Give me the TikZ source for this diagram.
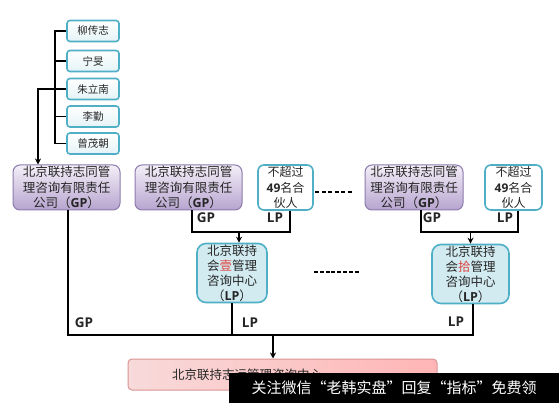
\documentclass[tikz,border=0pt]{standalone}
\usepackage{fontspec}
\setmainfont{Open Sans}
\newfontfamily\cjk{Noto Sans CJK SC}
\usetikzlibrary{arrows.meta,calc}
\definecolor{tealb}{HTML}{4FAFC6}
\definecolor{lpfill}{HTML}{D2EBF1}
\definecolor{gptop}{HTML}{F3EFF8}
\definecolor{gpbot}{HTML}{B7A4CF}
\definecolor{gpborder}{HTML}{8C7BAE}
\definecolor{pinkL}{HTML}{F8DADA}
\definecolor{pinkR}{HTML}{FFB5B5}
\definecolor{pinkB}{HTML}{D99694}
\definecolor{txt}{HTML}{262626}
\definecolor{redch}{HTML}{E0443E}
\newcommand{\mylat}[1]{{\rmfamily\bfseries #1}}
\begin{document}
\begin{tikzpicture}[x=1pt,y=-1pt,
  person/.style={draw=tealb, line width=1.6pt, top color=white, bottom color=lpfill!60, rounded corners=3pt,
    minimum width=52pt, minimum height=21pt, inner sep=0pt, text=txt,
    font=\cjk\fontsize{10.5}{12}\selectfont},
  gpbox/.style={draw=gpborder, line width=1pt, top color=gptop, bottom color=gpbot, rounded corners=7pt,
    minimum height=45pt, inner sep=0pt, align=center, text=txt,
    font=\cjk\fontsize{12.5}{15.5}\selectfont},
  lpabox/.style={draw=tealb, line width=1.6pt, fill=white, rounded corners=6pt,
    minimum height=45pt, inner sep=0pt, align=center, text=txt,
    font=\cjk\fontsize{12}{15.5}\selectfont},
  lpcbox/.style={draw=tealb, line width=1.6pt, fill=lpfill, rounded corners=9pt,
    minimum height=59pt, inner sep=0pt, align=center, text=txt,
    font=\cjk\fontsize{12.5}{15}\selectfont},
  lbl/.style={font=\bfseries\fontsize{13.5}{14}\selectfont, inner sep=0pt, text=txt},
  conn/.style={line width=1.3pt},
  arr/.style={conn, -{Stealth[length=6pt,width=6pt]}},
  dashline/.style={line width=1.8pt}
]
\useasboundingbox (0,0) rectangle (559,403);
\fill[white] (0,0) rectangle (559,403);

% persons
\node[person] (p1) at (93,31) {柳传志};
\node[person] (p2) at (93,61) {宁旻};
\node[person] (p3) at (93,89) {朱立南};
\node[person] (p4) at (93,116.5) {李勤};
\node[person] (p5) at (93,143.5) {曾茂朝};

% GP / LP boxes row
\node[gpbox, minimum width=107pt] (gp1) at (66.5,187.5) {北京联持志同管\\理咨询有限责任\\公司（\mylat{GP}）};
\node[gpbox, minimum width=107pt] (gp2) at (188.5,187.5) {北京联持志同管\\理咨询有限责任\\公司（\mylat{GP}）};
\node[lpabox, minimum width=55pt] (lpa) at (285.5,187.5) {不超过\\\mylat{49}名合\\伙人};
\node[gpbox, minimum width=98pt] (gp3) at (414,187.5) {北京联持志同管\\理咨询有限责任\\公司（\mylat{GP}）};
\node[lpabox, minimum width=57pt] (lpb) at (513.5,187.5) {不超过\\\mylat{49}名合\\伙人};

% partnership boxes
\node[lpcbox, minimum width=70pt] (lp1) at (232,273) {北京联持\\会{\color{redch}壹}管理\\咨询中心\\（\mylat{LP}）};
\node[lpcbox, minimum width=77pt] (lp10) at (470.5,274) {北京联持\\会{\color{redch}拾}管理\\咨询中心\\（\mylat{LP}）};

% bottom box
\node[draw=pinkB, line width=1pt, left color=pinkL, right color=pinkR, rounded corners=4pt,
  minimum width=309pt, minimum height=31pt, inner sep=0pt] (bot) at (282.5,374.5) {};
\node[text=txt, font=\cjk\fontsize{12.5}{14}\selectfont, inner sep=0pt] (bottxt) at (247,375) {北京联持志远管理咨询中心};

% person bus
\coordinate (t1) at (55,31);
\draw[conn] (p1.west) -- (t1) -- (t1 |- p5.west) -- (p5.west);
\draw[conn] (p2.west) -- (t1 |- p2.west);
\draw[conn] (p3.west) -- (t1 |- p3.west);
\draw[conn] (p4.west) -- (t1 |- p4.west);
\coordinate (k) at (38,89);
\draw[arr] (t1 |- p3.west) -- (k) -- (k |- gp1.north);

% dashes
\coordinate (d1a) at (315,192); \coordinate (d1b) at (353,192);
\draw[dashline, dash pattern=on 4.4pt off 2.1pt] (d1a) -- (d1b);
\coordinate (d2a) at (314,272); \coordinate (d2b) at (360,272);
\draw[dashline, dash pattern=on 4pt off 1.8pt] (d2a) -- (d2b);

% left group bus
\coordinate (j2l) at (192,232); \coordinate (j2r) at (290,232);
\draw[conn] (gp2.south -| j2l) -- (j2l) -- (j2r) -- (lpa.south -| j2r);
\coordinate (a1) at (239,232);
\draw[arr] (a1) -- (a1 |- lp1.north);
\node[lbl] (lg2) at (206,218) {GP};
\node[lbl] (ll2) at (275,218) {LP};

% right group bus
\coordinate (j3l) at (421,232); \coordinate (j3r) at (518,232);
\draw[conn] (gp3.south -| j3l) -- (j3l) -- (j3r) -- (lpb.south -| j3r);
\draw[arr] (lp10.north |- j3l) -- (lp10.north);
\node[lbl] (lg3) at (432,218) {GP};
\node[lbl] (ll3) at (505,218) {LP};

% bottom bus
\coordinate (b0) at (68,335); \coordinate (b1) at (473,335);
\draw[conn] (gp1.south -| b0) -- (b0) -- (b1) -- (lp10.south -| b1);
\draw[conn] (lp1.south) -- (lp1.south |- b0);
\coordinate (a2) at (273,335);
\draw[arr] (a2) -- (a2 |- bot.north);
\node[lbl] (lg1) at (84,323) {GP};
\node[lbl] (ll1) at (250,323) {LP};
\node[lbl] (ll10) at (456,322) {LP};

% watermark bar
\node[fill=black, minimum width=330pt, minimum height=30pt, inner sep=0pt, text=white,
  font=\cjk\fontsize{15}{16}\selectfont] (wm) at (394,388) {关注微信“老韩实盘”回复“指标”免费领};
\end{tikzpicture}
\end{document}
